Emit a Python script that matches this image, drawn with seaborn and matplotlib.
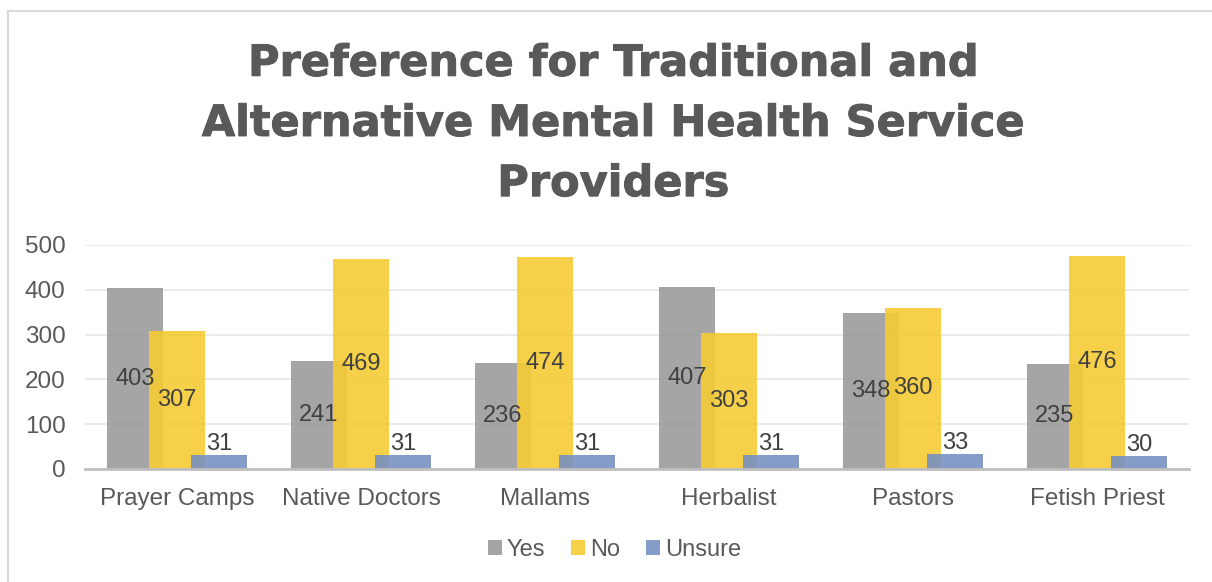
import matplotlib
matplotlib.use("Agg")
import matplotlib.pyplot as plt
from matplotlib.lines import Line2D
from matplotlib.patches import Patch
import matplotlib.patheffects as pe
import numpy as np
import pandas as pd
import seaborn as sns

# Survey responses per provider type
providers = ["Prayer Camps", "Native Doctors", "Mallams", "Herbalist", "Pastors", "Fetish Priest"]
yes_counts = [403, 241, 236, 407, 348, 235]
no_counts = [307, 469, 474, 303, 360, 476]
unsure_counts = [31, 31, 31, 31, 33, 30]
y_ticks = [0, 100, 200, 300, 400, 500]

series = [
    ("Yes", yes_counts, "#9b9b9b"),
    ("No", no_counts, "#f4cb34"),
    ("Unsure", unsure_counts, "#7890c2"),
]

sns.set_theme(style="white")
plt.rcParams["font.family"] = ["Liberation Sans", "DejaVu Sans"]

fig = plt.figure(figsize=(12.12, 5.82), dpi=100)
ax = fig.add_axes([0.0701, 0.1942, 0.9109, 0.3849])

bar_width = 0.30
step = 0.228
text_color = "#404040"
label_size = 17
for i, (name, vals, color) in enumerate(series):
    offset = (i - 1) * step
    df = pd.DataFrame({"pos": np.arange(len(providers)) + offset, "value": vals})
    sns.barplot(data=df, x="pos", y="value", native_scale=True, width=bar_width,
                color=color, alpha=0.9, saturation=1, linewidth=0, errorbar=None,
                ax=ax, zorder=2 + i)
    bars = ax.containers[-1]
    if name == "Unsure":
        ax.bar_label(bars, labels=[str(v) for v in vals], padding=0,
                     fontsize=label_size, color=text_color, zorder=10)
    else:
        ax.bar_label(bars, labels=[str(v) for v in vals], label_type="center",
                     fontsize=label_size, color=text_color, zorder=10)

ax.set_xlim(-0.5, len(providers) - 0.5)
ax.set_ylim(0, 500)
ax.set_yticks(y_ticks)
ax.set_yticklabels([str(t) for t in y_ticks], fontsize=17.5, color="#595959")
ax.set_xticks(np.arange(len(providers)))
ax.set_xticklabels(providers, fontsize=17.5, color="#595959")
ax.tick_params(axis="x", length=0, pad=14)
ax.tick_params(axis="y", length=0, pad=14)
ax.set_xlabel("")
ax.set_ylabel("")
ax.yaxis.grid(True, color="#e6e6e6", linewidth=1.2, zorder=0)
ax.set_axisbelow(True)
for side in ["top", "right", "left"]:
    ax.spines[side].set_visible(False)
ax.spines["bottom"].set_color("#bfbfbf")
ax.spines["bottom"].set_linewidth(2)
ax.spines["bottom"].set_zorder(8)

fig.text(0.506, 0.787,
         "Preference for Traditional and\nAlternative Mental Health Service\nProviders",
         ha="center", va="center", fontsize=31, fontweight="bold",
         color="#595959", family=["DejaVu Sans"], linespacing=1.55,
         path_effects=[pe.withStroke(linewidth=0.7, foreground="#595959")])

handles = [Patch(facecolor=c, edgecolor="none", alpha=0.9, label=n) for n, _, c in series]
fig.legend(handles=handles, loc="center", bbox_to_anchor=(0.507, 0.055), ncol=3,
           frameon=False, fontsize=17, handlelength=0.6, handleheight=0.6,
           handletextpad=0.2, columnspacing=1.1, labelcolor="#595959")

# chart frame edges
fig.add_artist(Line2D([0.0066, 0.0066], [0, 0.981], transform=fig.transFigure,
                      color="#d9d9d9", linewidth=1.5))
fig.add_artist(Line2D([0.0066, 1.0], [0.981, 0.981], transform=fig.transFigure,
                      color="#d9d9d9", linewidth=1.5))

fig.savefig("out.png", dpi=100, facecolor="white")
